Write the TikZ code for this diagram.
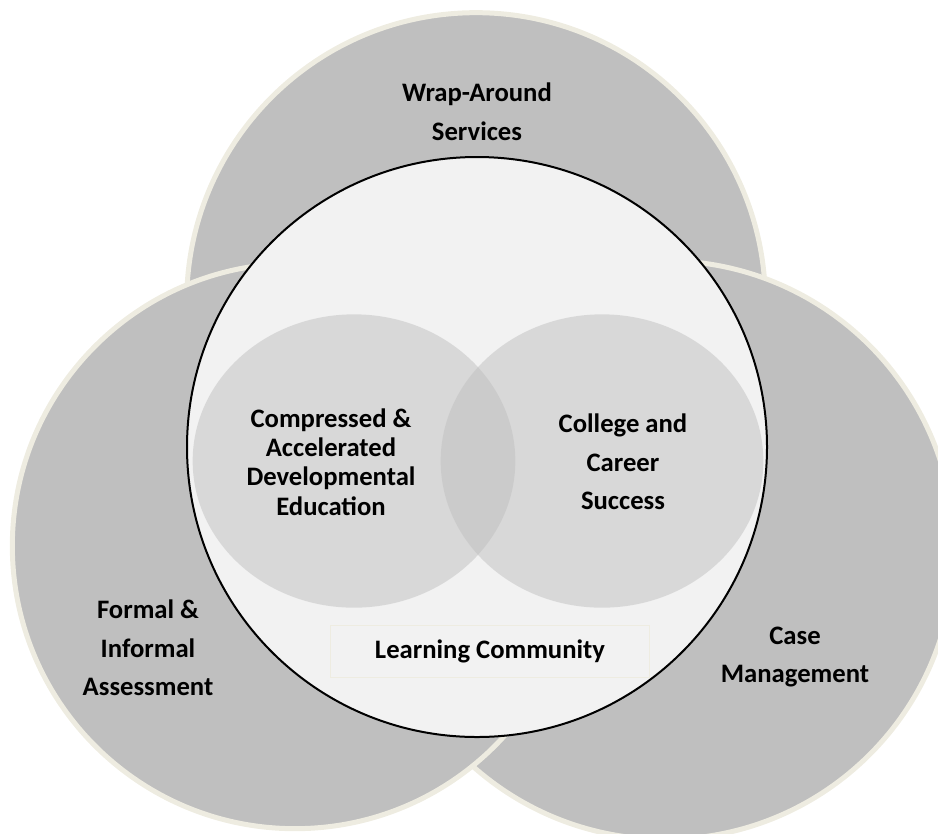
\documentclass[tikz,border=0pt]{standalone}
\usepackage{fontspec}
\setmainfont{Carlito}
\usetikzlibrary{shapes.geometric}
\definecolor{ringgray}{HTML}{BFBFBF}
\definecolor{cream}{HTML}{EEECE1}
\definecolor{corefill}{HTML}{F2F2F2}
\definecolor{lobegray}{HTML}{C0C0C0}
\begin{document}
\begin{tikzpicture}[
        x=0.75pt, y=-0.75pt,
        ring/.style={circle, draw=cream, line width=3.75pt, fill=ringgray, inner sep=0pt},
        core/.style={circle, draw=black, line width=1.5pt, fill=corefill, inner sep=0pt, minimum size=435pt},
        lobe/.style={ellipse, fill=lobegray, fill opacity=0.5, inner sep=0pt, minimum width=242pt, minimum height=220pt},
        txt/.style={align=center, font=\fontsize{20}{29}\selectfont\bfseries},
        lobetxt/.style={txt, font=\fontsize{20}{22}\selectfont\bfseries}
    ]
        \useasboundingbox (0,0) rectangle (938,833);

        % outer rings
        \node[ring, minimum size=434pt] (wrap) at (476,302) {};
        \node[ring, minimum size=434pt] (casering) at (665,550) {};
        \node[ring, minimum size=424pt] (assessring) at (295,546) {};

        % inner circle and lobes
        \node[core] (core) at (477,447) {};
        \node[lobe] (devlobe) at (354,461) {};
        \node[lobe] (ccslobe) at (602,461) {};
        \node[rectangle, draw=cream, line width=0.75pt, fill=corefill, minimum width=239pt, minimum height=39pt] (lcbox) at (490,651) {};

        % labels
        \node[txt] (wraptxt) at (477,112) {Wrap-Around\\Services};
        \node[txt] (assesstxt) at (148,648) {Formal \&\\Informal\\Assessment};
        \node[txt] (casetxt) at (795,657) {Case\\Management};
        \node[lobetxt] (devtxt) at (331,462) {Compressed \&\\Accelerated\\Developmental\\Education};
        \node[txt] (ccstxt) at (623,462) {College and\\Career\\Success};
        \node[txt] (lctxt) at (lcbox) {Learning Community};
    \end{tikzpicture}
\end{document}
